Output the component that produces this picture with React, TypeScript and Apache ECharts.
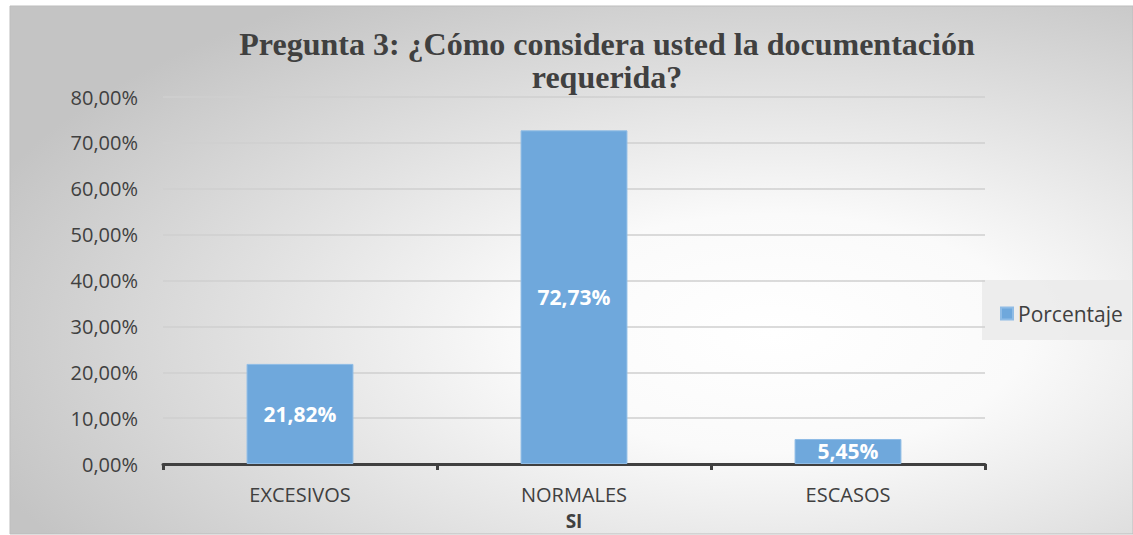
import React, { useEffect, useRef } from "react";
import * as echarts from "echarts";

const categories = ["EXCESIVOS", "NORMALES", "ESCASOS"];
const values = [21.82, 72.73, 5.45];
const yTicks = [0, 10, 20, 30, 40, 50, 60, 70, 80];
const seriesName = "Porcentaje";
const titleText = "Pregunta 3: ¿Cómo considera usted la documentación\nrequerida?";
const axisName = "SI";

const fmt = (v: number) => v.toFixed(2).replace(".", ",") + "%";

export default function App() {
  const ref = useRef<HTMLDivElement>(null);
  useEffect(() => {
    const chart = echarts.init(ref.current!, undefined, { renderer: "svg" });
    chart.setOption({
      animation: false,
      graphic: [
        {
          type: "rect",
          z: -10,
          silent: true,
          shape: { x: 10, y: 6, width: 1123, height: 528 },
          style: {
            fill: {
              type: "radial",
              x: 0.68,
              y: 0.62,
              r: 0.75,
              colorStops: [
                { offset: 0, color: "#ffffff" },
                { offset: 0.3, color: "#fafafa" },
                { offset: 1, color: "#c4c4c4" },
              ],
            },
            stroke: "#bdbdbd",
            lineWidth: 1,
          },
        },
        {
          type: "rect",
          z: -5,
          silent: true,
          shape: { x: 982, y: 280, width: 149, height: 60 },
          style: { fill: "rgba(235,235,235,0.9)" },
        },
      ],
      title: {
        text: titleText,
        left: 602,
        top: 22,
        textAlign: "center",
        textStyle: {
          fontFamily: "Liberation Serif",
          fontWeight: "bold",
          fontSize: 32,
          color: "#404040",
          lineHeight: 33,
        },
      },
      legend: {
        data: [seriesName],
        left: 995,
        top: 298,
        itemWidth: 12,
        itemHeight: 12,
        icon: "rect",
        itemGap: 6,
        textStyle: { fontFamily: "Open Sans", fontSize: 21, color: "#404040", padding: [0, 0, 0, 0] },
      },
      grid: { left: 163, right: 148, top: 97, bottom: 71, containLabel: false, outerBoundsMode: "none" },
      xAxis: {
        type: "category",
        data: categories,
        name: axisName,
        nameLocation: "middle",
        nameGap: 47,
        nameTextStyle: { fontFamily: "Open Sans", fontWeight: "bold", fontSize: 19, color: "#404040" },
        axisLine: { lineStyle: { color: "#404040", width: 3 } },
        axisTick: { show: true, length: 6, lineStyle: { color: "#404040", width: 3 } },
        axisLabel: { fontFamily: "Open Sans", fontSize: 20, color: "#404040", margin: 20 },
      },
      yAxis: {
        type: "value",
        min: 0,
        max: 80,
        interval: 10,
        axisLine: { show: false },
        axisTick: { show: false },
        axisLabel: {
          fontFamily: "Open Sans",
          fontSize: 20,
          color: "#404040",
          margin: 25,
          formatter: (v: number) => (yTicks.includes(v) ? fmt(v) : ""),
        },
        splitLine: { lineStyle: { color: "#cfcfcf", width: 1.5 } },
      },
      series: [
        {
          name: seriesName,
          type: "bar",
          data: values,
          barWidth: "39%",
          itemStyle: { color: "#6fa8dc", borderColor: "#8fbce6", borderWidth: 1 },
          label: {
            show: true,
            position: "inside",
            formatter: (p: any) => fmt(p.value),
            fontFamily: "Open Sans",
            fontWeight: "bold",
            fontSize: 21,
            color: "#ffffff",
          },
        },
      ],
    });
    return () => chart.dispose();
  }, []);
  return (
    <div
      ref={ref}
      style={{ position: "absolute", left: 0, top: 0, width: 1133, height: 535 }}
    />
  );
}
